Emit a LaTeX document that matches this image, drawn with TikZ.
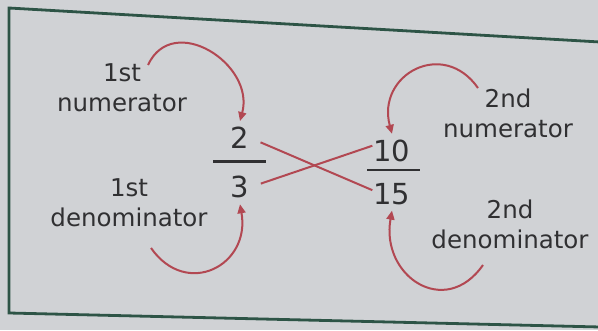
\documentclass[tikz,border=0pt]{standalone}
\usepackage{fontspec}
\setmainfont{DejaVu Sans}
\usetikzlibrary{arrows.meta, positioning}
\definecolor{bgpaper}{RGB}{208,210,213}
\definecolor{framegreen}{RGB}{45,84,70}
\definecolor{arrowred}{RGB}{178,72,82}
\definecolor{inkgray}{RGB}{48,48,50}

\begin{document}
\begin{tikzpicture}[
			x=1pt, y=1pt,
			node distance=15pt,
			digit/.style={inner xsep=1pt, inner ysep=6pt, text=inkgray, font=\fontsize{29}{34}\selectfont},
			lbl/.style={align=center, text=inkgray, font=\fontsize{24.5}{30}\selectfont},
			fracbar/.style={draw=inkgray, line width=2.5pt},
			cross/.style={draw=arrowred, line width=2pt, shorten <=11pt},
			curv/.style={draw=arrowred, line width=2pt, -{Triangle[length=9pt, width=8pt]}, looseness=1.6}
			]
			\useasboundingbox (0,0) rectangle (598,330);
			\fill[bgpaper] (0,0) rectangle (598,330);
			% frame (the page is photographed a bit skewed)
			\draw[framegreen, line width=2.8pt] (600,288) -- (9,322) -- (9,17) -- (600,3);
			% the two fractions
			\node[digit] (n1) at (240,192) {2};
			\node[digit, below=15pt of n1] (d1) {3};
			\node[digit] (n2) at (392,179) {10};
			\node[digit, below=8.5pt of n2] (d2) {15};
			\draw[fracbar] (213,168.5) -- (266,168.5);
			\draw[fracbar] (367,160) -- (420,160);
			% labels
			\node[lbl] (num1) at (122,242) {1st\\numerator};
			\node[lbl] (den1) at (129,127) {1st\\denominator};
			\node[lbl] (num2) at (508,217) {2nd\\numerator};
			\node[lbl] (den2) at (510,106) {2nd\\denominator};
			\coordinate (s1) at (148,265);
			\coordinate (s2) at (151,82);
			\coordinate (s3) at (478,242);
			\coordinate (s4) at (483,65);
			\draw[cross] (n1.east) -- (d2.170);
			\draw[cross] (d1.east) -- (n2.165);
			\draw[curv] (s1) to[out=65, in=75, looseness=1.4] (n1.north);
			\draw[curv] (s2) to[out=-55, in=-80] (d1.south);
			\draw[curv] (s3) to[out=125, in=105] (n2.north);
			\draw[curv] (s4) to[out=-125, in=-100] (d2.south);
		\end{tikzpicture}
\end{document}
